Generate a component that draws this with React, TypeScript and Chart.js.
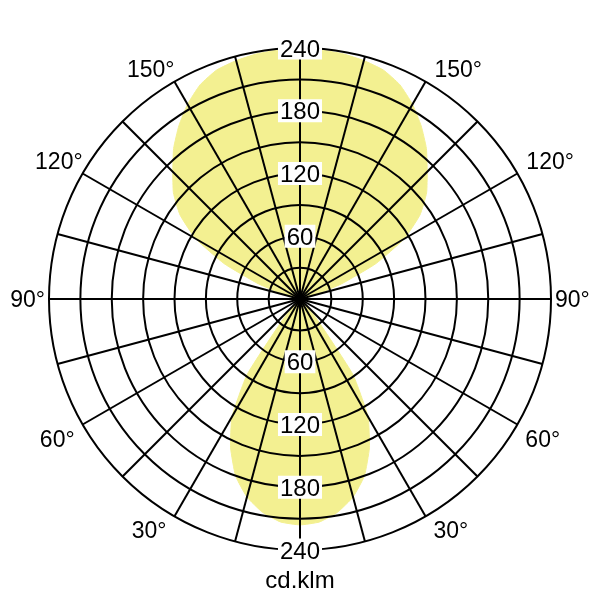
import React, { useEffect, useRef } from "react";
import { Chart, registerables } from "chart.js";

Chart.register(...registerables);

const FONT = "'Liberation Sans', Arial, sans-serif";

// Angles measured clockwise from the top (5° steps), 72 directions
const ANGLES: string[] = [
  "0","5","10","15","20","25","30","35","40","45","50","55",
  "60","65","70","75","80","85","90","95","100","105","110","115",
  "120","125","130","135","140","145","150","155","160","165","170","175",
  "180","185","190","195","200","205","210","215","220","225","230","235",
  "240","245","250","255","260","265","270","275","280","285","290","295",
  "300","305","310","315","320","325","330","335","340","345","350","355",
];

// Luminous intensity (cd/klm) for each direction above
const INTENSITY: number[] = [
  240, 239, 238, 236, 233, 226, 215, 202, 188, 172, 158, 140,
  115, 80, 42, 15, 4, 0, 0, 0, 0, 0, 0, 0,
  0, 0, 0, 5, 25, 88, 130, 157, 180, 196, 207, 214,
  216, 214, 207, 196, 180, 157, 130, 88, 25, 5, 0, 0,
  0, 0, 0, 0, 0, 0, 0, 0, 4, 15, 42, 80,
  115, 140, 158, 172, 188, 202, 215, 226, 233, 236, 238, 239,
];

const RADIAL_TICK_LABELS: number[] = [60, 120, 180, 240];
const RADIAL_MAX = 240;
const RADIAL_STEP = 30;

// Degree labels: [direction index, text]
const DEGREE_LABEL_INDEX: number[] = [6, 12, 18, 24, 30, 42, 48, 54, 60, 66];
const DEGREE_LABEL_TEXT: string[] = ["150°", "120°", "90°", "60°", "30°", "30°", "60°", "90°", "120°", "150°"];

const UNIT_LABEL = "cd.klm";
const FILL_COLOR = "rgb(243, 240, 145)";

const labelPlugin = {
  id: "photometricLabels",
  afterDraw(chart: any) {
    const scale = chart.scales.r;
    const ctx = chart.ctx;
    ctx.save();

    // radial value labels (top and bottom)
    ctx.font = `24px ${FONT}`;
    ctx.textAlign = "center";
    ctx.textBaseline = "alphabetic";
    for (const v of RADIAL_TICK_LABELS) {
      for (const idx of [0, 36]) {
        const p = scale.getPointPositionForValue(idx, v);
        const t = String(v);
        const w = ctx.measureText(t).width;
        ctx.fillStyle = "#ffffff";
        ctx.fillRect(p.x - w / 2 - 2, p.y - 11.5, w + 4, 23);
        ctx.fillStyle = "#000000";
        ctx.fillText(t, p.x, p.y + 8.5);
      }
    }

    // degree labels
    ctx.font = `23px ${FONT}`;
    ctx.fillStyle = "#000000";
    DEGREE_LABEL_INDEX.forEach((idx, i) => {
      const p = scale.getPointPosition(idx, scale.drawingArea);
      const theta = idx * 5;
      const text = DEGREE_LABEL_TEXT[i];
      if (theta < 180) {
        ctx.textAlign = "left";
        if (theta < 90) ctx.fillText(text, p.x + 9, p.y - 5);
        else if (theta === 90) ctx.fillText(text, p.x + 4, p.y + 8);
        else ctx.fillText(text, p.x + 8, p.y + 22);
      } else {
        ctx.textAlign = "right";
        if (theta > 270) ctx.fillText(text, p.x, p.y - 5);
        else if (theta === 270) ctx.fillText(text, p.x - 4, p.y + 8);
        else ctx.fillText(text, p.x - 8, p.y + 22);
      }
    });

    // unit label
    ctx.font = `24px ${FONT}`;
    ctx.textAlign = "center";
    ctx.fillText(UNIT_LABEL, scale.xCenter, scale.yCenter + scale.drawingArea + 38);

    ctx.restore();
  },
};

export default function App() {
  const canvasRef = useRef<HTMLCanvasElement | null>(null);

  useEffect(() => {
    if (!canvasRef.current) return;
    const chart = new Chart(canvasRef.current, {
      type: "radar",
      data: {
        labels: ANGLES,
        datasets: [
          {
            data: INTENSITY,
            fill: true,
            backgroundColor: FILL_COLOR,
            borderColor: FILL_COLOR,
            borderWidth: 1,
            tension: 0.15,
            pointRadius: 0,
            pointHoverRadius: 0,
          },
        ],
      },
      options: {
        responsive: false,
        animation: false,
        layout: { padding: { left: 49, right: 49, top: 48, bottom: 50 } },
        plugins: {
          legend: { display: false },
          tooltip: { enabled: false },
        },
        scales: {
          r: {
            z: 1,
            min: 0,
            max: RADIAL_MAX,
            ticks: { display: false, stepSize: RADIAL_STEP, z: 1 },
            pointLabels: { display: false },
            grid: { circular: true, color: "#000000", lineWidth: 2, z: 1 },
            angleLines: {
              display: true,
              color: "#000000",
              lineWidth: (c: any) => (c.index % 3 === 0 ? 2 : 0),
            },
          },
        },
      } as any,
      plugins: [labelPlugin],
    });
    return () => chart.destroy();
  }, []);

  return (
    <div style={{ position: "absolute", left: 0, top: 0, width: 600, height: 600, background: "#fff" }}>
      <canvas ref={canvasRef} width={600} height={600} style={{ width: 600, height: 600 }} />
    </div>
  );
}
